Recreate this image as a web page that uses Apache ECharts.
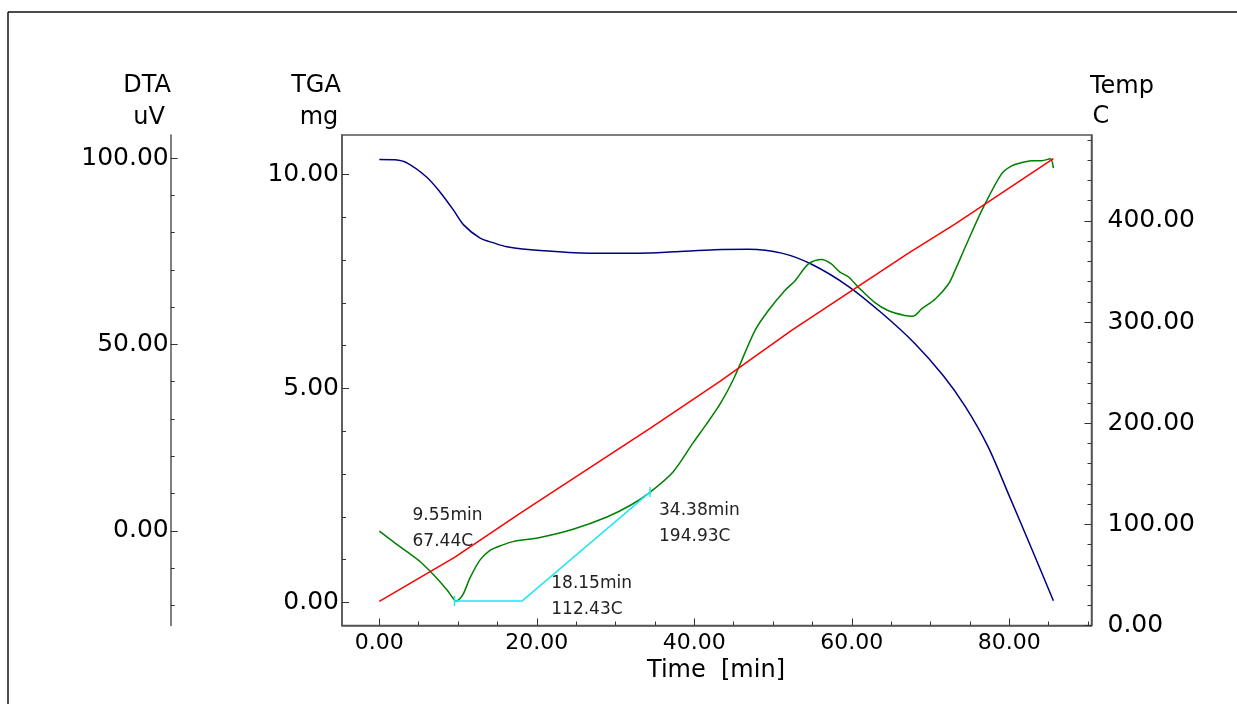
<!DOCTYPE html>
<html><head><meta charset="utf-8">
<script src="https://cdn.jsdelivr.net/npm/echarts@6/dist/echarts.min.js"></script>
<style>html,body{margin:0;padding:0;background:#fff}#c{width:1237px;height:704px}</style>
</head><body><div id="c"></div>
<script>
// ---- data ----
const tgaTime = [0,2,3.5,6,7.7,9.4,10.7,12.8,14.5,16.2,20.4,26.7,33,37.3,42.6,46.9,51.1,54.9,59.6,63.8,68,71.6,74.4,77.3,79.9,82.8,85.6];
const tgaMg   = [10.35,10.34,10.27,9.94,9.59,9.17,8.82,8.51,8.40,8.31,8.22,8.16,8.16,8.19,8.24,8.25,8.16,7.90,7.38,6.76,6.05,5.30,4.58,3.64,2.53,1.27,0.04];

const dtaTime = [0,2,3.5,5.2,7.3,8.6,9.3,9.7,10.2,10.7,11.5,12.8,14.1,15.5,17,20.4,24.6,28.9,32,34.4,37.3,39.9,41.5,43.3,45,47.7,49.4,51.5,52.8,54.5,56.2,57.4,58.5,59.6,60.8,62.9,64.6,66.7,67.8,68.9,70.6,72.3,73.1,74.4,76.5,79,80.3,81.6,82.8,84.1,85.2,85.6];
const dtaUv   = [-0.1,-3.3,-5.6,-8.3,-12.7,-15.9,-17.9,-18.8,-18.3,-16.8,-12.7,-7.8,-5.2,-3.9,-2.9,-1.8,0.4,3.7,7.0,10.4,15.8,23.8,28.5,34.1,40.8,53.7,59.1,64.5,67.1,71.6,72.8,71.6,69.4,68.1,65.4,61.3,59.1,57.8,57.6,59.6,62.2,66.3,69.8,76.1,85.9,95.7,97.9,98.8,99.3,99.3,99.8,97.3];

const tempTime = [0,9.55,18.15,34.38,43.3,52.4,67.2,73.1,85.6];
const tempC    = [23.8,67.44,112.43,194.93,241.6,292.0,368.2,396.8,461.7];

// onset analysis (cyan baseline) and annotation values
const onsetTime = [9.55,18.15,34.38];
const onsetDta  = [-18.8,-18.8,10.4];
const onsetTemp = [67.44,112.43,194.93];

// tick labels
const timeMajor = [0,20,40,60,80];
const timeMinor = [5,10,15,25,30,35,45,50,55,65,70,75,85,90];
const dtaMajor  = [0,50,100];
const dtaMinor  = [-20,-10,10,20,30,40,60,70,80,90];
const tgaMajor  = [0,5,10];
const tgaMinor  = [1,2,3,4,6,7,8,9];
const tempMajor = [0,100,200,300,400];
const tempMinor = [20,40,60,80,120,140,160,180,220,240,260,280,320,340,360,380,420,440,460,480];

const zip = (a,b) => a.map((v,i)=>[v,b[i]]);
const FONT = 'DejaVu Sans';
const axisLineStyle = {color:'#555', width:1.5};
const tickStyle = {color:'#333', width:1};
const fmt = v => Number(v).toFixed(2);

function majorAxis(extra){
  return Object.assign({
    type:'value', splitLine:{show:false},
    axisLine:{show:true, onZero:false, lineStyle:axisLineStyle},
  }, extra);
}
function minorAxis(extra){
  return Object.assign({
    type:'value', splitLine:{show:false},
    axisLine:{show:false, onZero:false},
    axisLabel:{show:false}
  }, extra);
}

const X = {min:-4.74, max:90.44};
const DTA = {min:-25.4, max:106.2};
const TGA = {min:-0.54, max:10.92};
const TMP = {min:0, max:485};

const chart = echarts.init(document.getElementById('c'), null, {renderer:'canvas'});
const option = {
  animation:false,
  backgroundColor:'#fff',
  grid:{left:342, top:135, width:749.5, height:490.5, show:true, borderColor:'#555', borderWidth:1.5, outerBoundsMode:'none'},
  xAxis:[
    majorAxis(Object.assign({position:'bottom',
      axisTick:{show:true, inside:true, length:7, customValues:timeMajor, lineStyle:tickStyle},
      axisLabel:{customValues:timeMajor, formatter:fmt, fontFamily:FONT, fontSize:22, color:'#000', margin:7}}, X)),
    minorAxis(Object.assign({position:'bottom',
      axisTick:{show:true, inside:true, length:4, customValues:timeMinor, lineStyle:tickStyle}}, X))
  ],
  yAxis:[
    majorAxis(Object.assign({position:'left', offset:171.3,
      axisTick:{show:true, inside:true, length:7, customValues:dtaMajor, lineStyle:tickStyle},
      axisLabel:{customValues:dtaMajor, formatter:fmt, fontFamily:FONT, fontSize:25, color:'#000', margin:2}}, DTA)),
    minorAxis(Object.assign({position:'left', offset:171.3,
      axisTick:{show:true, inside:true, length:4, customValues:dtaMinor, lineStyle:tickStyle}}, DTA)),
    majorAxis(Object.assign({position:'left', offset:0,
      axisTick:{show:true, inside:true, length:7, customValues:tgaMajor, lineStyle:tickStyle},
      axisLabel:{customValues:tgaMajor, formatter:fmt, fontFamily:FONT, fontSize:25, color:'#000', margin:3}}, TGA)),
    minorAxis(Object.assign({position:'left', offset:0,
      axisTick:{show:true, inside:true, length:4, customValues:tgaMinor, lineStyle:tickStyle}}, TGA)),
    majorAxis(Object.assign({position:'right', offset:0,
      axisTick:{show:true, inside:true, length:7, customValues:tempMajor, lineStyle:tickStyle},
      axisLabel:{customValues:tempMajor, formatter:fmt, fontFamily:FONT, fontSize:25, color:'#000', margin:16}}, TMP)),
    minorAxis(Object.assign({position:'right', offset:0,
      axisTick:{show:true, inside:true, length:4, customValues:tempMinor, lineStyle:tickStyle}}, TMP))
  ],
  series:[
    {name:'TGA', type:'line', xAxisIndex:0, yAxisIndex:2, data:zip(tgaTime,tgaMg), smooth:0.3,
     showSymbol:false, lineStyle:{color:'#000080', width:1.5}, itemStyle:{color:'#000080'}},
    {name:'DTA', type:'line', xAxisIndex:0, yAxisIndex:0, data:zip(dtaTime,dtaUv), smooth:0.3,
     showSymbol:false, lineStyle:{color:'#008000', width:1.5}, itemStyle:{color:'#008000'}},
    {name:'Temp', type:'line', xAxisIndex:0, yAxisIndex:4, data:zip(tempTime,tempC),
     showSymbol:false, lineStyle:{color:'#ff0000', width:1.5}, itemStyle:{color:'#ff0000'}},
    {name:'Onset', type:'line', xAxisIndex:0, yAxisIndex:0,
     data:onsetTime.map((t,i)=>({value:[t,onsetDta[i]], symbol: i===1 ? 'none' : 'rect'})),
     showSymbol:true, showAllSymbol:true, symbolSize:[1.5,10],
     lineStyle:{color:'#22e5f5', width:1.5}, itemStyle:{color:'#22e5f5'}}
  ]
};
chart.setOption(option);

// annotation text offsets (pixels) relative to each onset point
const annotOffset = [[-42,-99],[29,-31],[9,5]];
const graphics = [
  {type:'line', shape:{x1:8,y1:12,x2:1237,y2:12}, style:{stroke:'#111', lineWidth:1.5}, silent:true},
  {type:'line', shape:{x1:8,y1:12,x2:8,y2:704}, style:{stroke:'#111', lineWidth:1.5}, silent:true},
  {type:'text', x:147, y:86, style:{text:'DTA', font:'24px "DejaVu Sans"', fill:'#000', align:'center', verticalAlign:'middle'}},
  {type:'text', x:149, y:118, style:{text:'uV', font:'24px "DejaVu Sans"', fill:'#000', align:'center', verticalAlign:'middle'}},
  {type:'text', x:316, y:86, style:{text:'TGA', font:'24px "DejaVu Sans"', fill:'#000', align:'center', verticalAlign:'middle'}},
  {type:'text', x:319, y:118, style:{text:'mg', font:'24px "DejaVu Sans"', fill:'#000', align:'center', verticalAlign:'middle'}},
  {type:'text', x:1122, y:87, style:{text:'Temp', font:'24px "DejaVu Sans"', fill:'#000', align:'center', verticalAlign:'middle'}},
  {type:'text', x:1101, y:117, style:{text:'C', font:'24px "DejaVu Sans"', fill:'#000', align:'center', verticalAlign:'middle'}},
  {type:'text', x:716, y:671, style:{text:'Time  [min]', font:'24px "DejaVu Sans"', fill:'#000', align:'center', verticalAlign:'middle'}}
];
onsetTime.forEach((t,i)=>{
  const p = chart.convertToPixel({xAxisIndex:0, yAxisIndex:0}, [t, onsetDta[i]]);
  graphics.push({type:'text', x:p[0]+annotOffset[i][0], y:p[1]+annotOffset[i][1],
    style:{text: t.toFixed(2)+'min\n'+onsetTemp[i].toFixed(2)+'C', font:'17px "DejaVu Sans"', lineHeight:26.5, fill:'#222', align:'left', verticalAlign:'top'}});
});
chart.setOption({graphic:graphics});
</script></body></html>
